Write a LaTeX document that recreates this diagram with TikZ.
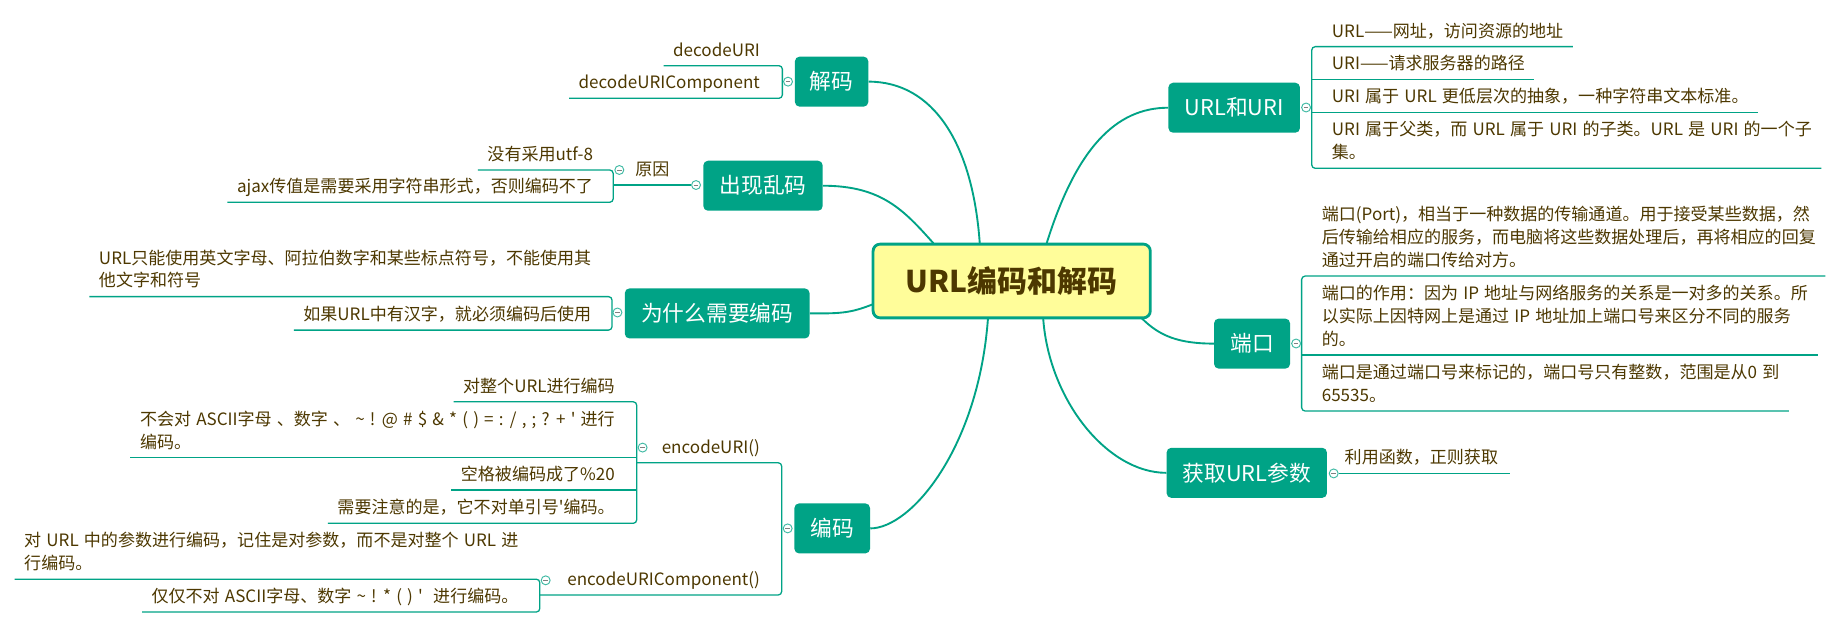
\documentclass[tikz,border=0pt]{standalone}
\usepackage{fontspec}
\setmainfont{Noto Sans CJK SC}[Ligatures=TeXOff]
\definecolor{xteal}{HTML}{00A386}
\definecolor{xtxt}{HTML}{4D3800}
\definecolor{xroot}{HTML}{FFFD9A}
\newcommand{\leafstrut}{\rule[-0.28em]{0pt}{0.28em}}
\tikzset{
  conn/.style={draw=xteal, line width=1.6pt},
  brk/.style={draw=xteal, line width=1.1pt, rounded corners=3pt},
  leafbase/.style={font={\fontsize{14.5}{19.5}\selectfont\spaceskip=4.4pt\relax}, text=xtxt, inner xsep=0pt, inner ysep=3.94pt, align=left, execute at end node=\leafstrut},
  leafL/.style={leafbase, anchor=south east},
  leafR/.style={leafbase, anchor=south west},
  branch/.style={fill=xteal, text=white, rounded corners=4pt, minimum height=42.6pt, inner sep=0pt, font=\fontsize{18.5}{22}\selectfont},
  rootbox/.style={fill=xroot, draw=xteal, line width=2.4pt, rounded corners=6pt, minimum width=236pt, minimum height=62.8pt, inner sep=0pt, font=\fontsize{25.5}{30}\selectfont\bfseries, text=xtxt},
  marker/.style={circle, draw=xteal!75, fill=white, line width=0.8pt, minimum size=7.6pt, inner sep=0pt,
    path picture={\draw[gray, line width=0.7pt] ([xshift=-2pt]path picture bounding box.center) -- ([xshift=2pt]path picture bounding box.center);}},
}
\begin{document}
\begin{tikzpicture}[x=1pt,y=-1pt]
\fill[white] (0,0) rectangle (1568,534.6);
\useasboundingbox (0,0) rectangle (1568,534.6);

% main branches
\node[branch, minimum width=62.5pt] (jiema) at (707.9,69.5) {解码};
\node[branch, minimum width=101.6pt] (luanma) at (649.5,158.1) {出现乱码};
\node[branch, minimum width=157.3pt] (why) at (610.5,266.8) {为什么需要编码};
\node[branch, minimum width=64.4pt] (bianma) at (708.4,449.8) {编码};
\node[branch, minimum width=112pt] (urluri) at (1050.6,91.7) {URL和URI};
\node[branch, minimum width=64.7pt] (port) at (1065.8,292.5) {端口};
\node[branch, minimum width=136.5pt] (param) at (1061.3,402.5) {获取URL参数};

% attach points on the root
\coordinate (rJ) at (834,207);
\coordinate (rL) at (794.5,207);
\coordinate (rW) at (743,259);
\coordinate (rB) at (841,271);
\coordinate (rU) at (891,207);
\coordinate (rP) at (972,271);
\coordinate (rG) at (888,271);

\draw[conn] (rJ) .. controls +(-6,-85) and +(55,0) .. (jiema.east);
\draw[conn] (rL) .. controls +(-25,-28) and +(50,0) .. (luanma.east);
\draw[conn] (rW) .. controls +(-20,8) and +(25,0) .. (why.east);
\draw[conn] (rB) .. controls +(-8,110) and +(35,0) .. (bianma.east);
\draw[conn] (rU) .. controls +(25,-80) and +(-45,0) .. (urluri.west);
\draw[conn] (rP) .. controls +(15,15) and +(-30,0) .. (port.west);
\draw[conn] (rG) .. controls +(5,70) and +(-50,0) .. (param.west);

\node[rootbox] (root) at (861.2,239.2) {URL编码和解码};

% ---------- 解码 ----------
\coordinate (bJ) at (666,69.5);
\node[leafL] (d1) at (647,55.9) {decodeURI};
\node[leafL] (d2) at (647,83.7) {decodeURIComponent};
\draw[brk] ([xshift=-8pt]d1.south west) -- (bJ |- d1.south) -- (bJ |- d2.south) -- ([xshift=-8pt]d2.south west);
\node[marker] (mJ) at (670.8,69.5) {};

% ---------- 出现乱码 ----------
\coordinate (bY) at (522,157.5);
\node[marker] (mL) at (592.5,157.5) {};
\node[leafL] (yy) at (570,157.5) {原因};
\draw[brk] (bY) -- (mL.west);
\node[leafL] (y1) at (505,144.7) {没有采用utf-8};
\node[leafL] (y2) at (505,172.2) {ajax传值是需要采用字符串形式，否则编码不了};
\draw[brk] ([xshift=-8pt]y1.south west) -- (bY |- y1.south) -- (bY |- y2.south) -- ([xshift=-8pt]y2.south west);
\node[marker] (mY) at (527.2,144.7) {};

% ---------- 为什么需要编码 ----------
\coordinate (bW) at (521,266.8);
\node[leafL] (w1) at (503.5,252.5) {URL只能使用英文字母、阿拉伯数字和某些标点符号，不能使用其\\他文字和符号};
\node[leafL] (w2) at (503.5,281) {如果URL中有汉字，就必须编码后使用};
\draw[brk] ([xshift=-8pt]w1.south west) -- (bW |- w1.south) -- (bW |- w2.south) -- ([xshift=-8pt]w2.south west);
\node[marker] (mW) at (525.6,266) {};

% ---------- 编码 ----------
\coordinate (bE) at (665.4,449.8);
\coordinate (bE1) at (542,393.9);
\coordinate (bE2) at (459.5,506.5);
\node[leafL] (e1) at (647,393.9) {encodeURI()};
\node[leafL] (e2) at (647,506.5) {encodeURIComponent()};
\draw[brk] (bE1 |- e1.south) -- (bE |- e1.south) -- (bE |- e2.south) -- (bE2 |- e2.south);
\node[marker] (mE) at (670.5,449.8) {};

\node[leafL] (e11) at (523.5,342) {对整个URL进行编码};
\node[leafL] (e12) at (523.5,389.6) {不会对 ASCII字母 、数字 、 \textasciitilde{} ! @ \# \$ \& * ( ) = : / , ; ? + ' 进行\\编码。};
\node[leafL] (e13) at (523.5,417.1) {空格被编码成了\%20};
\node[leafL] (e14) at (523.5,445.5) {需要注意的是，它不对单引号'编码。};
\draw[brk] ([xshift=-8pt]e11.south west) -- (bE1 |- e11.south) -- (bE1 |- e14.south) -- ([xshift=-8pt]e14.south west);
\draw[brk] ([xshift=-8pt]e12.south west) -- (bE1 |- e12.south);
\draw[brk] ([xshift=-8pt]e13.south west) -- (bE1 |- e13.south);
\node[marker] (mE1) at (547,381) {};

\node[leafL] (e21) at (441.5,493) {对 URL 中的参数进行编码，记住是对参数，而不是对整个 URL 进\\行编码。};
\node[leafL] (e22) at (441.5,521) {仅仅不对 ASCII字母、数字 \textasciitilde{} ! * ( ) '\ \ 进行编码。};
\draw[brk] ([xshift=-8pt]e21.south west) -- (bE2 |- e21.south) -- (bE2 |- e22.south) -- ([xshift=-8pt]e22.south west);
\node[marker] (mE2) at (464.5,494) {};

% ---------- URL和URI ----------
\coordinate (bU) at (1116.6,91.7);
\node[leafR] (u1) at (1133.6,39.7) {URL——网址，访问资源的地址};
\node[leafR] (u2) at (1133.6,67.5) {URI——请求服务器的路径};
\node[leafR] (u3) at (1133.6,95.8) {URI 属于 URL 更低层次的抽象，一种字符串文本标准。};
\node[leafR] (u4) at (1133.6,143.3) {URI 属于父类，而 URL 属于 URI 的子类。URL 是 URI 的一个子\\集。};
\draw[brk] ([xshift=8pt]u1.south east) -- (bU |- u1.south) -- (bU |- u4.south) -- ([xshift=8pt]u4.south east);
\draw[brk] (bU |- u2.south) -- ([xshift=8pt]u2.south east);
\draw[brk] (bU |- u3.south) -- ([xshift=8pt]u3.south east);
\node[marker] (mU) at (1111.8,91.5) {};

% ---------- 端口 ----------
\coordinate (bP) at (1108,292.5);
\node[leafR] (p1) at (1125,235) {端口(Port)，相当于一种数据的传输通道。用于接受某些数据，然\\后传输给相应的服务，而电脑将这些数据处理后，再将相应的回复\\通过开启的端口传给对方。};
\node[leafR] (p2) at (1125,302.2) {端口的作用：因为 IP 地址与网络服务的关系是一对多的关系。所\\以实际上因特网上是通过 IP 地址加上端口号来区分不同的服务\\的。};
\node[leafR] (p3) at (1125,349.9) {端口是通过端口号来标记的，端口号只有整数，范围是从0 到\\65535。};
\draw[brk] ([xshift=8pt]p1.south east) -- (bP |- p1.south) -- (bP |- p3.south) -- ([xshift=8pt]p3.south east);
\draw[brk] (bP |- p2.south) -- ([xshift=8pt]p2.south east);
\node[marker] (mP) at (1103.3,292.4) {};

% ---------- 获取URL参数 ----------
\node[marker] (mG) at (1135.3,403) {};
\node[leafR] (g1) at (1144.5,403) {利用函数，正则获取};
\draw[brk] (mG.east) -- ([xshift=10pt]g1.south east);
\end{tikzpicture}
\end{document}
